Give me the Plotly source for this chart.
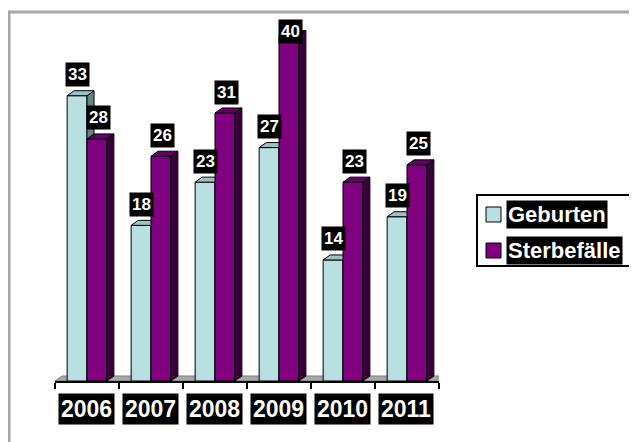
import plotly.graph_objects as go

years = ["2006", "2007", "2008", "2009", "2010", "2011"]
geburten = [33, 18, 23, 27, 14, 19]
sterbefaelle = [28, 26, 31, 40, 23, 25]
series_names = ["Geburten", "Sterbefälle"]

# colours: front, side, top
blue = ("#B9DFE3", "#5F8587", "#9EC0C3")
purple = ("#800080", "#3A003E", "#660069")

W, H = 637, 442
OFF = 8                      # page body margin of the html page
L, R, T, B = 47, 206, 22, 69
YMAX = 40.6
bw = 0.31      # bar width (category units)
dx, dy = 0.11, 0.58   # 3d depth offset
FONT = "Liberation Sans, Arial, sans-serif"


def px_x(px):
    return (px - OFF - L) / (W - L - R)


def px_y(py):
    return (H - B - (py - OFF)) / (H - T - B)


def faces(vals, off):
    front, side, top = ([], []), ([], []), ([], [])
    for i, v in enumerate(vals):
        x0 = i + off - bw / 2
        x1 = x0 + bw
        for poly, xs, ys in [
            (front, [x0, x1, x1, x0, x0], [0, 0, v, v, 0]),
            (side, [x1, x1 + dx, x1 + dx, x1, x1], [0, dy, v + dy, v, 0]),
            (top, [x0, x1, x1 + dx, x0 + dx, x0], [v, v, v + dy, v + dy, v]),
        ]:
            poly[0].extend(xs + [None])
            poly[1].extend(ys + [None])
    return front, side, top


fig = go.Figure()

# floor strip
n = len(years)
fig.add_trace(go.Scatter(x=[-0.5, n - 0.5, n - 0.5 + dx, -0.5 + dx, -0.5],
                         y=[0, 0, dy, dy, 0], fill="toself", mode="lines",
                         fillcolor="#A6A6A6", line=dict(color="#7F7F7F", width=1),
                         hoverinfo="skip", showlegend=False))

for vals, off, cols, name in [(geburten, -bw / 2, blue, series_names[0]),
                              (sterbefaelle, bw / 2, purple, series_names[1])]:
    for (xs, ys), col in zip(faces(vals, off), cols):
        fig.add_trace(go.Scatter(x=xs, y=ys, fill="toself", mode="lines",
                                 fillcolor=col, line=dict(color="#000000", width=1),
                                 name=name, hoverinfo="skip", showlegend=False))

# value labels
for vals, off in [(geburten, -bw / 2), (sterbefaelle, bw / 2 + 0.03)]:
    for i, v in enumerate(vals):
        fig.add_annotation(x=i + off, y=min(v, YMAX - 2.6), yshift=21,
                           text="<b>%d</b>" % v, showarrow=False,
                           font=dict(family=FONT, size=17, color="white"),
                           bgcolor="black", borderpad=2)

# year labels
for i, yr in enumerate(years):
    fig.add_annotation(x=i - 0.01, y=0, yshift=-28, text="<b>%s</b>" % yr,
                       showarrow=False,
                       font=dict(family=FONT, size=23, color="white"),
                       bgcolor="black", borderpad=2)

# outer frame
fig.add_shape(type="rect", xref="paper", yref="paper",
              x0=px_x(9), x1=px_x(W + 20), y0=px_y(H + 20), y1=px_y(12),
              line=dict(color="#A6A6A6", width=3))

# legend
fig.add_shape(type="rect", xref="paper", yref="paper",
              x0=px_x(477), x1=px_x(630), y0=px_y(266), y1=px_y(195),
              line=dict(color="black", width=2), fillcolor="white")
for k, (name, col) in enumerate(zip(series_names, [blue[0], purple[0]])):
    yc = 214.5 + 36 * k
    fig.add_shape(type="rect", xref="paper", yref="paper",
                  x0=px_x(486), x1=px_x(501), y0=px_y(yc + 7.5), y1=px_y(yc - 7.5),
                  line=dict(color="black", width=1), fillcolor=col)
    fig.add_annotation(xref="paper", yref="paper", x=px_x(506), y=px_y(yc),
                       xanchor="left", yanchor="middle", text="<b>%s</b>" % name,
                       showarrow=False,
                       font=dict(family=FONT, size=22, color="white"),
                       bgcolor="black", borderpad=1)

fig.update_xaxes(range=[-0.5, n - 0.5], tickvals=[k - 0.5 for k in range(n + 1)],
                 showticklabels=False, ticks="outside", ticklen=6, tickwidth=2,
                 tickcolor="black", showline=True, linecolor="black", linewidth=2,
                 showgrid=False, zeroline=False, fixedrange=True)
fig.update_yaxes(range=[0, YMAX], visible=False, fixedrange=True)

fig.update_layout(width=W, height=H, margin=dict(l=L, r=R, t=T, b=B),
                  plot_bgcolor="white", paper_bgcolor="white",
                  font=dict(family=FONT), showlegend=False)

fig.write_html("out.html")
